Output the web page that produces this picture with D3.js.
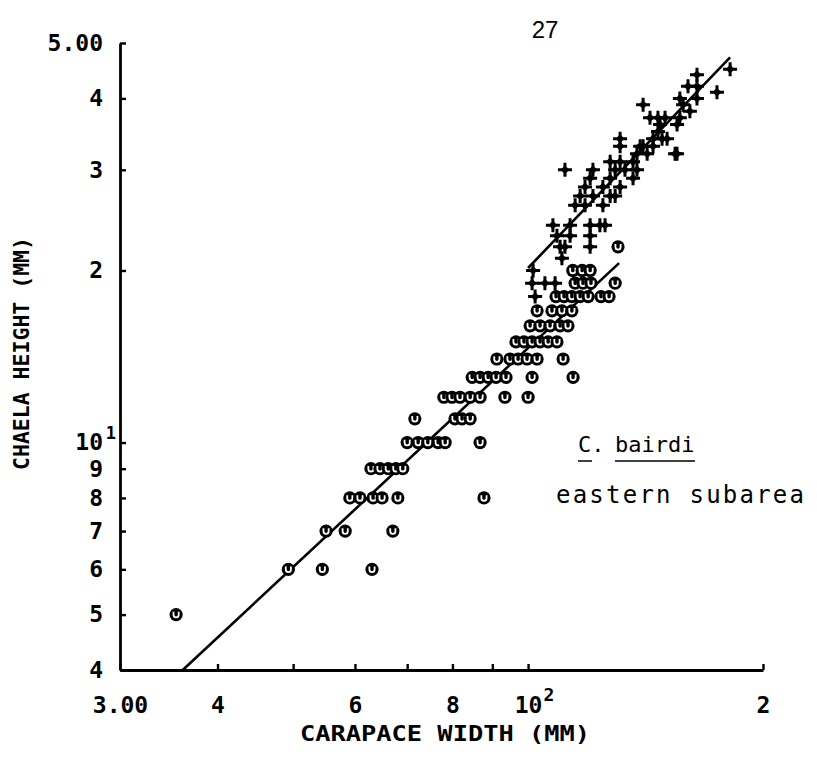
<!DOCTYPE html>
<html>
<head>
<meta charset="utf-8">
<script src="https://cdn.jsdelivr.net/npm/d3@7"></script>
<style>
  body { margin: 0; background: #fff; }
  svg { display: block; }
</style>
</head>
<body>
<svg id="chart" width="817" height="761"></svg>
<script>
// carapace width (mm), chela height (mm)
const circlePts = [
    [35.4, 5],
    [49.3, 6], [54.5, 6], [63.1, 6],
    [55.1, 7], [58.3, 7], [67.1, 7],
    [59.1, 8], [60.9, 8], [63.3, 8], [65.0, 8], [68.1, 8], [87.8, 8],
    [62.9, 9], [64.6, 9], [66.2, 9], [67.7, 9], [69.1, 9],
    [70.0, 10], [72.3, 10], [74.4, 10], [76.7, 10], [78.3, 10], [86.8, 10],
    [71.6, 11], [80.6, 11], [82.3, 11], [84.3, 11],
    [78.0, 12], [79.9, 12], [81.8, 12], [84.3, 12], [86.8, 12], [93.4, 12], [100.0, 12],
    [84.8, 13], [86.8, 13], [88.9, 13], [91.0, 13], [93.7, 13], [101.2, 13], [114.2, 13],
    [91.2, 14], [94.8, 14], [97.1, 14], [99.7, 14], [102.7, 14], [110.9, 14],
    [96.5, 15], [98.8, 15], [101.2, 15], [103.6, 15], [106.1, 15], [108.9, 15],
    [100.6, 16], [103.6, 16], [106.7, 16], [109.9, 16], [112.5, 16],
    [102.7, 17], [107.3, 17], [110.5, 17], [113.8, 17],
    [108.6, 18], [111.2, 18], [113.8, 18], [116.6, 18], [119.4, 18], [124.0, 18], [127.0, 18],
    [114.9, 19], [117.6, 19], [120.4, 19], [129.3, 19],
    [114.1, 20], [117.3, 20], [120.1, 20],
    [130.4, 22]
];

const crossPts = [
    [102.1, 18],
    [101.2, 19], [105.1, 19], [108.3, 19],
    [101.5, 20],
    [110.5, 21],
    [109.9, 22], [111.5, 22], [120.1, 22],
    [108.9, 23], [113.2, 23], [120.1, 23],
    [107.6, 24], [113.2, 24], [120.1, 24], [123.6, 24], [125.5, 24],
    [114.9, 26], [118.3, 26], [124.7, 26],
    [116.6, 27], [121.1, 27], [127.4, 27], [129.3, 27],
    [118.3, 28], [124.7, 28], [131.2, 28],
    [120.1, 29], [127.4, 29], [136.3, 29],
    [111.5, 30], [121.1, 30], [129.3, 30], [133.1, 30], [137.9, 30],
    [127.4, 31], [131.2, 31], [136.3, 31],
    [137.9, 32], [142.1, 32], [154.3, 32], [155.2, 32],
    [131.2, 33], [139.2, 33], [140.4, 33], [144.6, 33],
    [131.2, 34], [144.6, 34], [148.5, 34], [150.7, 34],
    [146.7, 35],
    [147.6, 36], [155.2, 36],
    [143.3, 37], [146.7, 37], [149.8, 37], [156.5, 37],
    [161.2, 38],
    [140.4, 39], [158.0, 39],
    [156.5, 40], [164.6, 40],
    [174.6, 41],
    [160.3, 42], [164.6, 42],
    [164.6, 44],
    [181.5, 45]
];

// fitted lines, as end points
const circleFit = [[36.1, 4.0], [130.8, 20.6]];
const crossFit = [[100.0, 20.2], [181.5, 47.2]];

const xTickValues = [30, 40, 50, 60, 70, 80, 90, 100, 200];
const xTickLabels = { 30: "3.00", 40: "4", 60: "6", 80: "8", 100: "10", 200: "2" };
const yTickValues = [4, 5, 6, 7, 8, 9, 10, 20, 30, 40, 50];
const yTickLabels = { 4: "4", 5: "5", 6: "6", 7: "7", 8: "8", 9: "9", 10: "10", 20: "2", 30: "3", 40: "4", 50: "5.00" };

const svg = d3.select("#chart");
svg.append("rect").attr("width", 817).attr("height", 761).attr("fill", "#fff");

const x = d3.scaleLog().domain([30, 200]).range([120, 763]);
const y = d3.scaleLog().domain([4, 50]).range([670, 43]);

// plotter lettering is monospaced
const plotFont = "'DejaVu Sans Mono', monospace";

// axes
const gx = svg.append("g").attr("transform", "translate(0,670)")
    .call(d3.axisBottom(x).tickValues(xTickValues).tickSizeInner(-6).tickSizeOuter(0)
        .tickPadding(27).tickFormat(d => xTickLabels[d] || ""));
const gy = svg.append("g").attr("transform", "translate(120,0)")
    .call(d3.axisLeft(y).tickValues(yTickValues).tickSizeInner(-6).tickSizeOuter(0)
        .tickPadding(17).tickFormat(d => yTickLabels[d] || ""));

[gx, gy].forEach(g => {
    g.attr("font-family", null).attr("font-size", null);
    g.select(".domain").attr("stroke", "#000").attr("stroke-width", 2.8);
    g.selectAll(".tick line").attr("stroke", "#000").attr("stroke-width", 2.4);
    g.selectAll(".tick text").attr("fill", "#000")
        .style("font-family", plotFont).style("font-size", "23px").style("font-weight", "bold");
});

// exponents on the decade labels
gx.selectAll(".tick").filter(d => d === 100).append("text")
    .attr("x", 15).attr("y", 31).attr("text-anchor", "start").attr("fill", "#000")
    .style("font-family", plotFont).style("font-size", "18px").style("font-weight", "bold")
    .text("2");
gy.selectAll(".tick").filter(d => d === 10).append("text")
    .attr("x", -4).attr("y", -4).attr("text-anchor", "end").attr("fill", "#000")
    .style("font-family", plotFont).style("font-size", "17px").style("font-weight", "bold")
    .text("1");

// fitted lines
const line = d3.line().x(d => x(d[0])).y(d => y(d[1]));
svg.selectAll(".fit")
    .data([circleFit, crossFit])
    .join("path")
    .attr("class", "fit")
    .attr("d", line)
    .attr("fill", "none")
    .attr("stroke", "#000")
    .attr("stroke-width", 2.6);

// circle markers
const circles = svg.selectAll(".circ")
    .data(circlePts)
    .join("g")
    .attr("class", "circ")
    .attr("transform", d => `translate(${x(d[0])},${y(d[1])})`);
circles.append("circle").attr("r", 6.6).attr("fill", "#000");
circles.append("path")
    .attr("d", "M-2.6,-2.8V0.2A2.6,2.6 0 0 0 2.6,0.2V-2.8")
    .attr("fill", "none").attr("stroke", "#fff").attr("stroke-width", 1.8);

// cross markers
const crosses = svg.selectAll(".cross")
    .data(crossPts)
    .join("g")
    .attr("class", "cross")
    .attr("transform", d => `translate(${x(d[0])},${y(d[1])})`);
crosses.append("path")
    .attr("d", "M-7,0H7M0,-7V7")
    .attr("stroke", "#000").attr("stroke-width", 3);
crosses.append("path")
    .attr("d", "M0,-4.4L4.4,0L0,4.4L-4.4,0Z")
    .attr("fill", "#000");

// titles
svg.append("text")
    .attr("x", 300).attr("y", 741)
    .attr("textLength", 290).attr("lengthAdjust", "spacingAndGlyphs")
    .style("font-family", plotFont)
    .style("font-size", "21px").style("font-weight", "bold")
    .text("CARAPACE WIDTH (MM)");

svg.append("text")
    .attr("transform", "translate(29,470) rotate(-90)")
    .attr("textLength", 233).attr("lengthAdjust", "spacingAndGlyphs")
    .style("font-family", plotFont)
    .style("font-size", "21px").style("font-weight", "bold")
    .text("CHAELA HEIGHT (MM)");

// page number
svg.append("text")
    .attr("x", 545).attr("y", 38).attr("text-anchor", "middle")
    .style("font-family", "'Liberation Sans', sans-serif").style("font-size", "24px")
    .text("27");

// species note
const mono = "'DejaVu Sans Mono', monospace";
svg.append("text").attr("x", 578).attr("y", 452)
    .style("font-family", mono).style("font-size", "22px").text("C.");
svg.append("text").attr("x", 615).attr("y", 452)
    .style("font-family", mono).style("font-size", "22px").text("bairdi");
svg.append("path")
    .attr("d", "M578,461H592M615,461H695")
    .attr("stroke", "#000").attr("stroke-width", 1.6);
svg.append("text").attr("x", 556).attr("y", 503)
    .attr("textLength", 248).attr("lengthAdjust", "spacing")
    .style("font-family", mono).style("font-size", "24px").text("eastern subarea");
</script>
</body>
</html>
